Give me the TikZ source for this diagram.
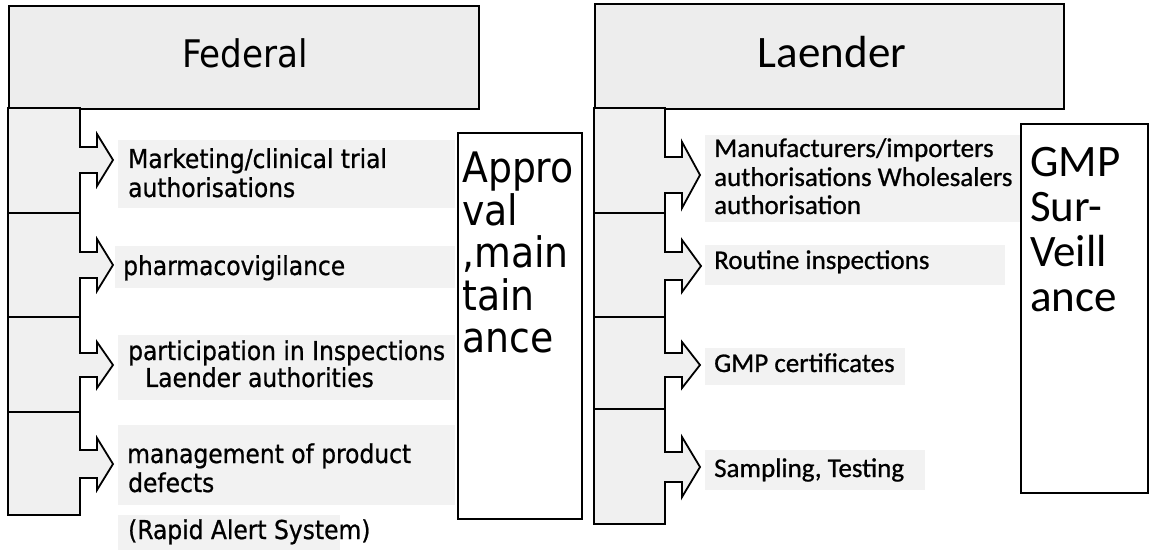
\documentclass[tikz,border=0pt]{standalone}
\usepackage{fontspec}
\setmainfont{DejaVu Sans Condensed}
\newfontfamily\tahfont{DejaVu Sans Condensed}
\newfontfamily\tahbfont{DejaVu Sans Condensed}[FakeBold=0.8]
\newfontfamily\calfont{Carlito}
\newfontfamily\calbfont{Carlito}[FakeBold=0.8]

% one block-arrow bump on the right edge of a side column
% #1 column edge x, #2 shaft end x, #3 tip x, #4 centre y, #5 half shaft, #6 half head
\newcommand\colbump[6]{-- (#1,{#4-#5}) -- (#2,{#4-#5}) -- (#2,{#4-#6}) -- (#3,#4)
  -- (#2,{#4+#6}) -- (#2,{#4+#5}) -- (#1,{#4+#5})}

\tikzset{
  frame/.style={draw=black, line width=1.8pt, line join=miter},
  sep/.style={draw=black, line width=1.4pt},
  head/.style={frame, fill=black!7, inner sep=0pt, anchor=north west},
  sidebox/.style={frame, fill=white, inner sep=0pt, anchor=north west},
  column/.style={frame, fill=black!6},
  band/.style={fill=black!5, draw=none},
  fedtxt/.style={anchor=base west, inner sep=0pt, font=\tahbfont\fontsize{26}{28}\selectfont},
  laetxt/.style={anchor=base west, inner sep=0pt, font=\calbfont\fontsize{27}{29}\selectfont},
  bigtah/.style={anchor=base west, inner sep=0pt, font=\tahfont\fontsize{42}{42}\selectfont},
  bigcal/.style={anchor=base west, inner sep=0pt, font=\calfont\fontsize{45}{45}\selectfont},
}

\begin{document}
\begin{tikzpicture}[x=1pt, y=-1pt]
\useasboundingbox (0,0) rectangle (1149,553);
\fill[white] (0,0) rectangle (1149,553);

% ---------------- Federal ----------------
\node[head, minimum width=470pt, minimum height=103pt] (fedhead) at (8,5) {};
\node[anchor=base, inner sep=0pt, font=\tahfont\fontsize{38}{38}\selectfont] (fedtitle) at (245,68) {Federal};

% shaded bands behind the items
\fill[band] (118,140) rectangle (455,208);
\fill[band] (115,246) rectangle (455,288);
\fill[band] (118,335) rectangle (455,400);
\fill[band] (118,425) rectangle (455,505);
\fill[band] (118,515) rectangle (340,550);

\draw[column] (8,108) -- (80,108)
  \colbump{80}{97}{113}{160}{13}{26}
  \colbump{80}{97}{113}{265}{13}{26}
  \colbump{80}{97}{113}{365}{12}{23}
  \colbump{80}{97}{113}{464}{14}{26}
  -- (80,515) -- (8,515) -- cycle;
\draw[sep] (8,213) -- (80,213);
\draw[sep] (8,317) -- (80,317);
\draw[sep] (8,412) -- (80,412);

\node[fedtxt] (f1a) at (128,168) {Marketing/clinical trial};
\node[fedtxt] (f1b) at (128,197) {authorisations};
\node[fedtxt] (f2)  at (123,275) {pharmacovigilance};
\node[fedtxt] (f3a) at (128,360) {participation in Inspections};
\node[fedtxt] (f3b) at (145,387) {Laender authorities};
\node[fedtxt] (f4a) at (127,463) {management of product};
\node[fedtxt] (f4b) at (128,492) {defects};
\node[fedtxt] (f4c) at (128,539) {(Rapid Alert System)};

\node[sidebox, minimum width=124pt, minimum height=386pt] (approval) at (457,132) {};
\node[bigtah] (ap1) at (462,183) {Appro};
\node[bigtah] (ap2) at (462,225.5) {val};
\node[bigtah] (ap3) at (462,268) {,main};
\node[bigtah] (ap4) at (462,310.5) {tain};
\node[bigtah] (ap5) at (462,353) {ance};

% ---------------- Laender ----------------
\node[head, minimum width=469pt, minimum height=105pt] (laehead) at (594,3) {};
\node[anchor=base, inner sep=0pt, font=\calfont\fontsize{45}{45}\selectfont] (laetitle) at (832,68) {Laender};

\fill[band] (705,135) rectangle (1020,222);
\fill[band] (705,245) rectangle (1005,285);
\fill[band] (705,348) rectangle (905,385);
\fill[band] (705,450) rectangle (925,490);

\draw[column] (594,108) -- (665,108)
  \colbump{665}{682}{700}{175}{18}{33}
  \colbump{665}{682}{701}{266}{14}{26}
  \colbump{665}{682}{700}{365}{12}{23}
  \colbump{665}{682}{700}{467}{15}{30}
  -- (665,524) -- (594,524) -- cycle;
\draw[sep] (594,213) -- (665,213);
\draw[sep] (594,317) -- (665,317);
\draw[sep] (594,409) -- (665,409);

\node[laetxt] (l1a) at (714,157) {Manufacturers/importers};
\node[laetxt] (l1b) at (714,186) {authorisations Wholesalers};
\node[laetxt] (l1c) at (714,214) {authorisation};
\node[laetxt] (l2)  at (714,269) {Routine inspections};
\node[laetxt] (l3)  at (714,372) {GMP certificates};
\node[laetxt] (l4)  at (714,477) {Sampling, Testing};

\node[sidebox, minimum width=127pt, minimum height=369pt] (gmp) at (1020,123) {};
\node[bigcal] (g1) at (1030,177) {GMP};
\node[bigcal] (g2) at (1030,222) {Sur-};
\node[bigcal] (g3) at (1030,267) {Veill};
\node[bigcal] (g4) at (1030,312) {ance};
\end{tikzpicture}
\end{document}
